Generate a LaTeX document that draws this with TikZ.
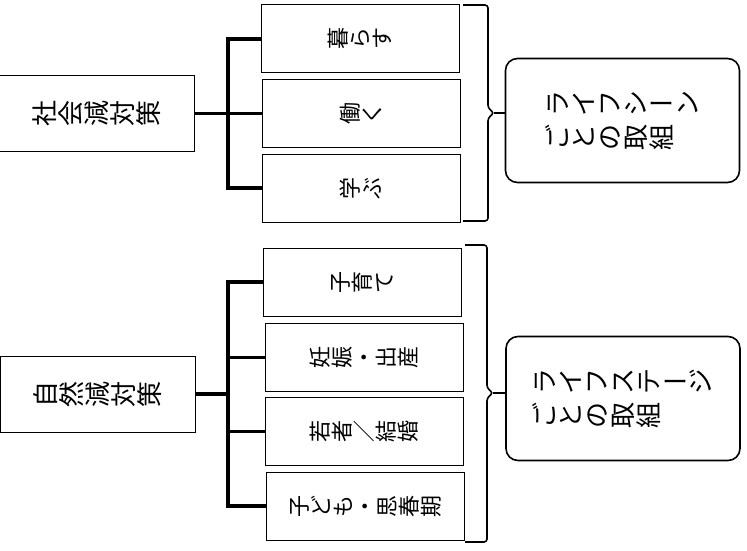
\documentclass[tikz,border=0pt]{standalone}
\usepackage{graphicx}
\usepackage{fontspec}
\newfontfamily\jpfont{Noto Sans CJK JP}

\makeatletter
\def\tc@choon{ー}
\newcommand\tc@box[1]{\makebox[1em]{\rule[-0.12em]{0pt}{1em}#1}}
\newcommand\tatechars[1]{\@tfor\tc@ch:=#1\do{\ifx\tc@ch\tc@choon\tc@box{\tc@ch}\else\rotatebox[origin=c]{90}{\tc@box{\tc@ch}}\fi}}
\makeatother

\begin{document}
\begin{tikzpicture}[x=1pt,y=-1pt,
  policy/.style={draw,line width=1pt,inner sep=0pt,minimum width=195pt,minimum height=76pt,font=\jpfont\fontsize{26}{30}\selectfont},
  scene/.style={draw,line width=1pt,inner sep=0pt,minimum width=198pt,minimum height=68pt,font=\jpfont\fontsize{22}{26}\selectfont},
  effort/.style={draw,line width=1.6pt,rounded corners=12pt,inner sep=0pt,minimum width=234pt,minimum height=124pt,align=left,font=\jpfont\fontsize{26}{34}\selectfont},
  tree/.style={line width=3.5pt},
  brk/.style={line width=1.6pt,rounded corners=3pt}]

\fill[white] (0,0) rectangle (747,551);
\useasboundingbox (0,0) rectangle (747,551);

\node[policy] (shakai) at (97,113.5) {\tatechars{社会減対策}};

\node[scene] (kurasu) at (360.5,39) {\tatechars{暮らす}};
\node[scene] (hataraku) at (361,113.5) {\tatechars{働く}};
\node[scene] (manabu) at (361,188) {\tatechars{学ぶ}};

\coordinate (trunkS) at (228,113.5);
\draw[tree] (shakai.east)--(hataraku.west);
\draw[tree] (kurasu.west)--(kurasu.west -| trunkS)--(manabu.west -| trunkS)--(manabu.west);

\draw[brk] (463,5)--(488,5)--(488,108)--(494,113)--(488,118)--(488,221)--(463,221);
\coordinate (tipS) at (494,113);

\node[effort] (scenes) at (622.5,120.5) {\tatechars{ライフシーン}\\\tatechars{ごとの取組}};
\draw[line width=1.6pt] (tipS)--(tipS -| scenes.west);

\node[policy] (shizen) at (98,394) {\tatechars{自然減対策}};

\node[scene] (kosodate) at (362.5,282) {\tatechars{子育て}};
\node[scene] (ninshin) at (364,357.5) {\tatechars{妊娠・出産}};
\node[scene] (wakamono) at (364.5,431.5) {\tatechars{若者／結婚}};
\node[scene] (kodomo) at (365,506) {\tatechars{子ども・思春期}};

\coordinate (trunkN) at (228,394);
\draw[tree] (shizen.east)--(trunkN);
\draw[tree] (kosodate.west)--(kosodate.west -| trunkN)--(kodomo.west -| trunkN)--(kodomo.west);
\draw[tree] (ninshin.west -| trunkN)--(ninshin.west);
\draw[tree] (wakamono.west -| trunkN)--(wakamono.west);

\draw[brk] (465,245)--(487,245)--(487,388)--(493,393)--(487,398)--(487,542)--(465,542);
\coordinate (tipN) at (493,393);

\node[effort] (stages) at (623,398.5) {\tatechars{ライフステージ}\\\tatechars{ごとの取組}};
\draw[line width=1.6pt] (tipN)--(tipN -| stages.west);

\end{tikzpicture}
\end{document}
